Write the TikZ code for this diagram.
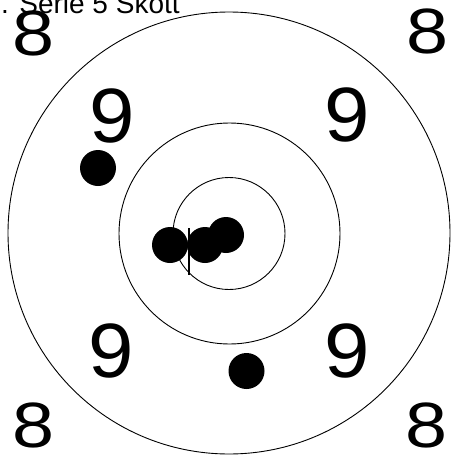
\documentclass[tikz,border=0pt]{standalone}
\usepackage{fontspec}
\setmainfont{Liberation Sans}
\tikzset{
  ring/.style={draw=black, line width=0.9pt},
  shot/.style={circle, fill=black, minimum size=36pt, inner sep=0pt},
  eight/.style={inner sep=0pt, font=\fontsize{64}{64}\selectfont},
  nine/.style={inner sep=0pt, font=\fontsize{77}{77}\selectfont},
  title/.style={inner sep=0pt, anchor=base west, font=\fontsize{28}{28}\selectfont}
}
\newcommand{\wideeight}{\scalebox{1.18}[1]{8}}
\newcommand{\widenine}{\scalebox{1.06}[1]{9}}
\begin{document}
\begin{tikzpicture}[x=1pt,y=-1pt]
\useasboundingbox (0,0) rectangle (454,455);
\fill[white] (0,0) rectangle (454,455);
\node[title] (t) at (1,13) {. Serie 5 Skott};
\draw[ring] (229,233) circle (221);
\draw[ring] (229.5,233.5) circle (110.5);
\draw[ring] (229,233.5) circle (56);
\node[eight] (e1) at (33.5,33) {\wideeight};
\node[eight] (e2) at (427.5,31) {\wideeight};
\node[eight] (e3) at (33.5,425) {\wideeight};
\node[eight] (e4) at (426.5,425) {\wideeight};
\node[nine] (n1) at (112,115.5) {\widenine};
\node[nine] (n2) at (347,114.5) {\widenine};
\node[nine] (n3) at (111,350.5) {\widenine};
\node[nine] (n4) at (347,350.5) {\widenine};
\node[shot] (s1) at (98,168) {};
\node[shot] (s2) at (246.5,371) {};
\node[shot] (s3) at (170,245) {};
\node[shot] (s4) at (205,245) {};
\node[shot] (s5) at (226,235) {};
\coordinate (m1) at (189,228);
\coordinate (m2) at (189,275);
\draw[line width=1.6pt] (m1) -- (m2);
\end{tikzpicture}
\end{document}
